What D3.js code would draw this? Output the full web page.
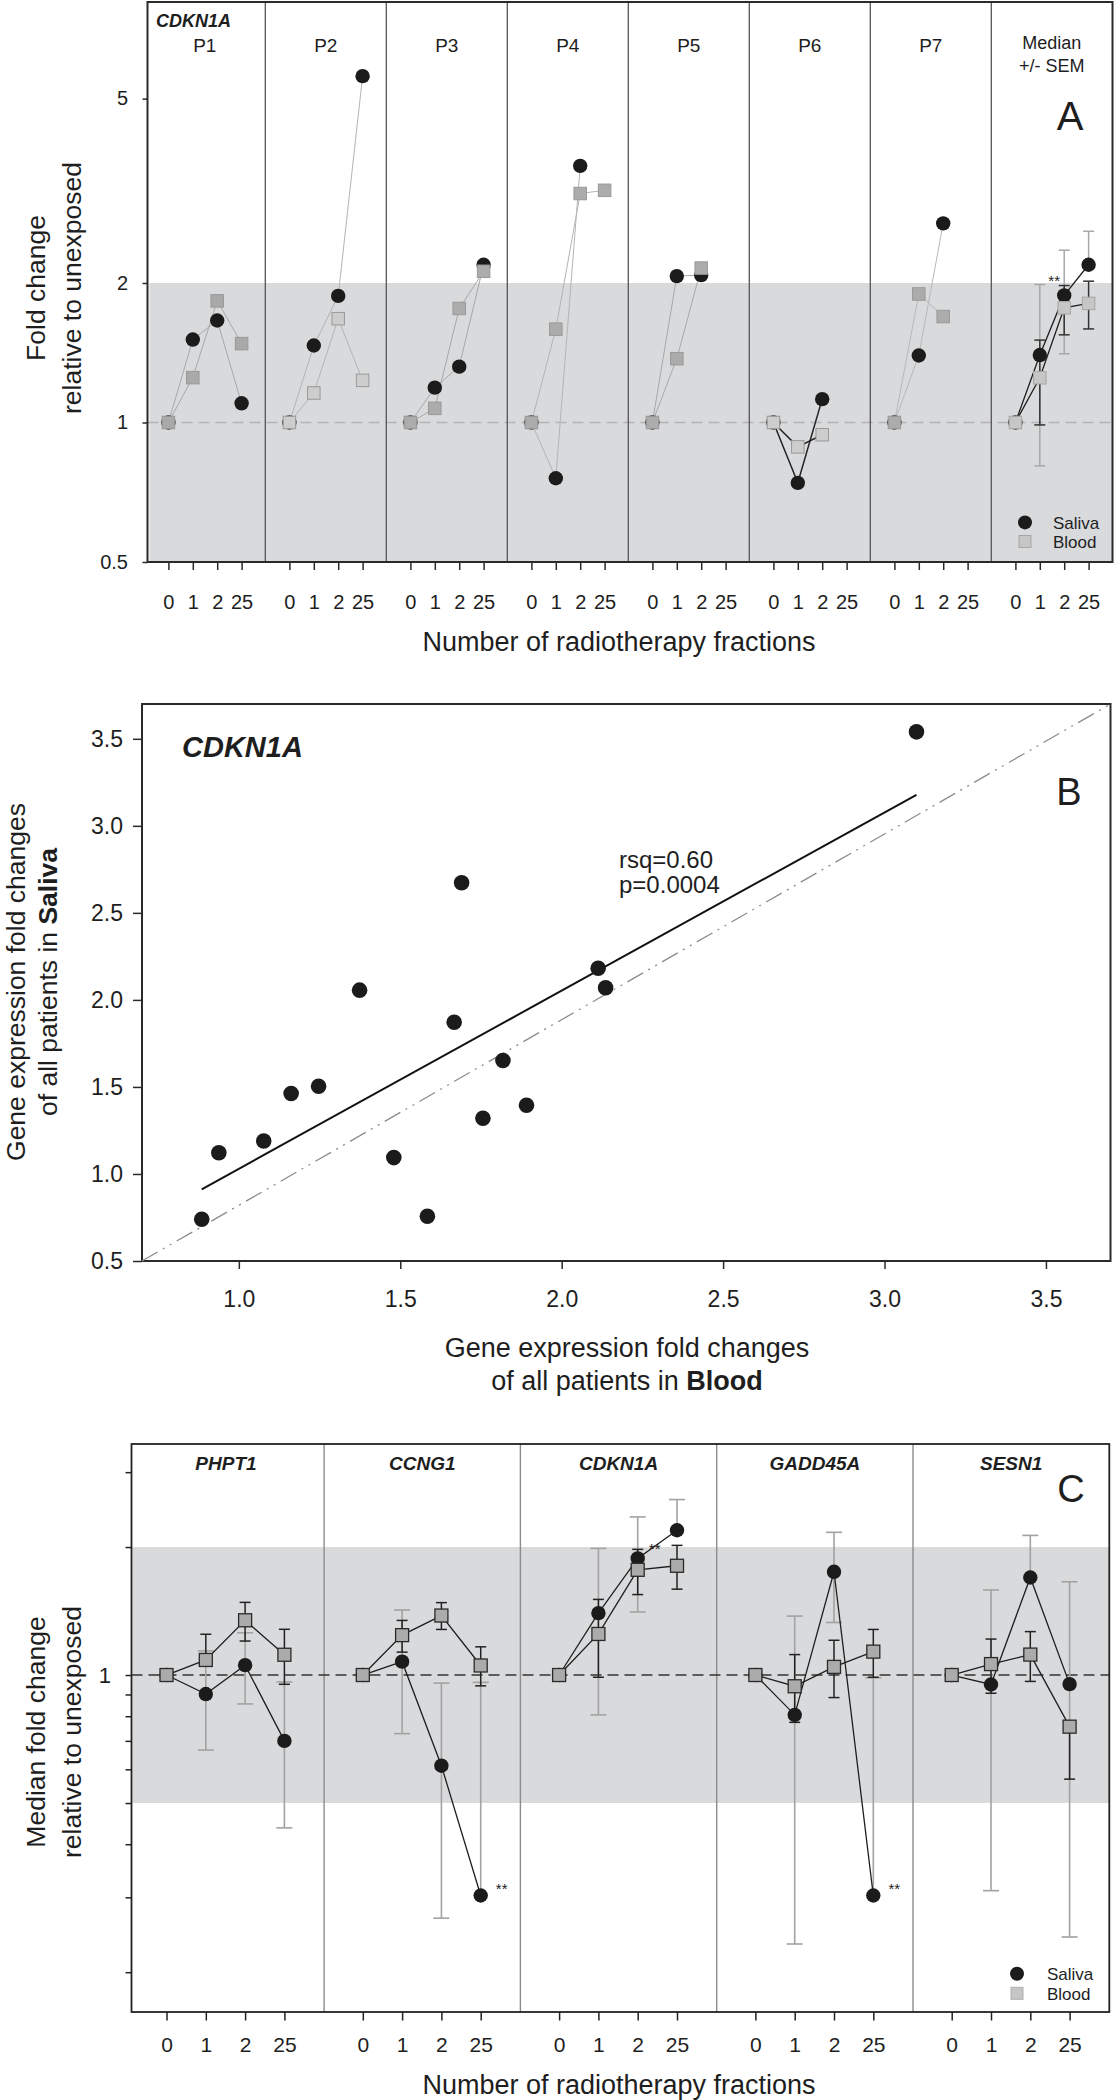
<!DOCTYPE html>
<html>
<head>
<meta charset="utf-8">
<script src="https://cdn.jsdelivr.net/npm/d3@7/dist/d3.min.js"></script>
<style>
html,body{margin:0;padding:0;background:#fff;}
svg text{font-family:"Liberation Sans",Arial,Helvetica,sans-serif;fill:#1e1e1e;}
</style>
</head>
<body>
<svg id="chart" width="1114" height="2100"></svg>
<script>
// ================= DATA =================
const fractions = ["0", "1", "2", "25"];

// Panel A: per-patient fold changes (CDKN1A)
const patients = ["P1", "P2", "P3", "P4", "P5", "P6", "P7"];
const salivaByPatient = [
  [1, 1.51, 1.66, 1.10],
  [1, 1.466, 1.876, 5.59],
  [1, 1.189, 1.32, 2.19],
  [1, 0.758, 3.58, null],
  [1, 2.07, 2.08, null],
  [1, 0.741, 1.123, null],
  [1, 1.395, 2.69, null]
];
const bloodByPatient = [
  [1, 1.25, 1.83, 1.48],
  [1, 1.158, 1.675, 1.233],
  [1, 1.073, 1.762, 2.12],
  [1, 1.59, 3.12, 3.17],
  [1, 1.373, 2.154, null],
  [1, 0.886, 0.941, null],
  [1, 1.894, 1.693, null]
];

// Panel C (and median cell of A): medians +/- SEM per gene
const genes = ["PHPT1", "CCNG1", "CDKN1A", "GADD45A", "SESN1"];
const salivaMedian = [
  [1, 0.902, 1.055, 0.70],
  [1, 1.075, 0.612, 0.303],
  [1, 1.398, 1.88, 2.19],
  [1, 0.806, 1.749, 0.303],
  [1, 0.95, 1.696, 0.952]
];
const bloodMedian = [
  [1, 1.085, 1.345, 1.116],
  [1, 1.241, 1.38, 1.053],
  [1, 1.249, 1.768, 1.807],
  [1, 0.941, 1.045, 1.135],
  [1, 1.061, 1.117, 0.756]
];
// [low, high] per fraction (null = not visible)
const salivaSEM = [
  [null, [0.666, 1.139], [0.855, 1.257], [0.437, 0.963]],
  [null, [0.728, 1.422], [0.268, 0.957], [null, 0.961]],
  [null, [0.806, 1.985], [1.407, 2.354], [null, 2.586]],
  [null, [0.233, 1.376], [1.329, 2.166], [null, 0.985]],
  [null, [0.311, 1.585], [null, 2.13], [0.242, 1.657]]
];
const bloodSEM = [
  [null, [null, 1.247], [1.202, 1.482], [0.951, 1.281]],
  [null, [1.132, 1.344], [1.28, 1.48], [0.943, 1.165]],
  [null, [0.988, 1.506], [1.546, 1.975], [1.592, 2.018]],
  [null, [0.774, 1.117], [0.885, 1.207], [0.988, 1.28]],
  [null, [0.906, 1.215], [0.966, 1.265], [0.569, null]]
];
// significance marks: gene index, fraction index
const sigC = [
  {gene: 1, frac: 3, series: "saliva"},
  {gene: 2, frac: 2, series: "saliva"},
  {gene: 3, frac: 3, series: "saliva"}
];

// Panel B: scatter blood vs saliva fold changes
const bloodFold  = [0.885, 0.938, 1.077, 1.162, 1.247, 1.374, 1.480, 1.584, 1.667, 1.690, 1.756, 1.818, 1.891, 2.113, 2.136, 3.099];
const salivaFold = [0.74, 1.122, 1.189, 1.462, 1.504, 2.056, 1.094, 0.757, 1.872, 2.673, 1.32, 1.652, 1.395, 2.182, 2.07, 3.54];
const statLines = ["rsq=0.60", "p=0.0004"];

// Tick values
const yTicksA = [0.5, 1, 2, 5];
const xTicksB = [1.0, 1.5, 2.0, 2.5, 3.0, 3.5];
const yTicksB = [0.5, 1.0, 1.5, 2.0, 2.5, 3.0, 3.5];
const yTicksC = [0.2, 0.3, 0.4, 0.5, 0.6, 0.7, 0.8, 0.9, 1, 2, 3];

// ================= STYLE =================
const INK = "#1e1e1e";
const BAND = "#d9dadc";
const patientLine = ["#a8a8a8", "#b4b4b4", "#a8a8a8", "#b4b4b4", "#a8a8a8", "#222222", "#b8b8b8"];
const patientLineW = [1, 1, 1, 1, 1, 1.5, 1];
const patientSquare = ["#a9a9a9", "#cdcdcd", "#acacac", "#acacac", "#acacac", "#cdcdcd", "#acacac"];

const svg = d3.select("#chart");

function styleAxis(g, size, color) {
  g.attr("font-family", null).attr("font-size", size);
  g.select(".domain").remove();
  g.selectAll(".tick line").attr("stroke", color).attr("stroke-width", 1.5);
}
function txt(g, x, y, s, size, o = {}) {
  const t = g.append("text").attr("x", x).attr("y", y).attr("font-size", size)
    .attr("text-anchor", o.anchor || "start");
  if (o.weight) t.attr("font-weight", o.weight);
  if (o.italic) t.attr("font-style", "italic");
  t.text(s);
  return t;
}
function rotTitle(g, x, y, parts, size) {
  const t = g.append("text").attr("transform", `translate(${x},${y}) rotate(-90)`)
    .attr("text-anchor", "middle").attr("font-size", size);
  parts.forEach(([s, b]) => t.append("tspan").attr("font-weight", b ? "bold" : null).text(s));
}
function drawCircles(g, pts, r) {
  g.selectAll(null).data(pts).join("circle")
    .attr("cx", d => d[0]).attr("cy", d => d[1]).attr("r", r).attr("fill", "#1b1b1b");
}
function drawSquares(g, pts, s, fill, stroke, sw) {
  g.selectAll(null).data(pts).join("rect")
    .attr("x", d => d[0] - s / 2).attr("y", d => d[1] - s / 2)
    .attr("width", s).attr("height", s)
    .attr("fill", fill).attr("stroke", stroke).attr("stroke-width", sw);
}
function pts(vals, xs, ys) {
  return vals.map((v, k) => v == null ? null : [xs(k), ys(v)]).filter(Boolean);
}
function seriesLine(g, vals, xs, ys, color, w) {
  const gen = d3.line().defined(d => d != null).x((d, k) => xs(k)).y(d => ys(d));
  g.append("path").attr("d", gen(vals)).attr("fill", "none").attr("stroke", color).attr("stroke-width", w);
}
function errBars(g, xs, ys, vals, sems, color, half, sw) {
  sems.forEach((s, k) => {
    if (!s) return;
    const x = xs(k);
    const lo = s[0] == null ? vals[k] : s[0];
    const hi = s[1] == null ? vals[k] : s[1];
    g.append("line").attr("x1", x).attr("x2", x).attr("y1", ys(lo)).attr("y2", ys(hi))
      .attr("stroke", color).attr("stroke-width", sw);
    [s[0], s[1]].forEach(e => {
      if (e == null) return;
      g.append("line").attr("x1", x - half).attr("x2", x + half).attr("y1", ys(e)).attr("y2", ys(e))
        .attr("stroke", color).attr("stroke-width", sw);
    });
  });
}

// ================= PANEL A =================
const A = {l: 147.5, t: 2, r: 1112.5, b: 562, cell0: 144.3, cellW: 121};
const yA = d3.scaleLog().domain([0.5, 8.08]).range([A.b, A.t]);
const gA = svg.append("g");
gA.append("rect").attr("x", A.l + 2).attr("y", yA(2)).attr("width", A.r - A.l - 2)
  .attr("height", yA(0.5) - yA(2)).attr("fill", BAND);
gA.append("line").attr("x1", A.l).attr("x2", A.r).attr("y1", yA(1)).attr("y2", yA(1))
  .attr("stroke", "#b5b5b5").attr("stroke-width", 1.3).attr("stroke-dasharray", "11,6");
for (let i = 1; i < 8; i++) {
  const x = A.cell0 + i * A.cellW;
  gA.append("line").attr("x1", x).attr("x2", x).attr("y1", A.t).attr("y2", A.b)
    .attr("stroke", "#555").attr("stroke-width", 1.3);
}
gA.append("rect").attr("x", A.l).attr("y", A.t).attr("width", A.r - A.l).attr("height", A.b - A.t)
  .attr("fill", "none").attr("stroke", "#2a2a2a").attr("stroke-width", 2);
gA.append("g").attr("transform", `translate(${A.l},0)`)
  .call(d3.axisLeft(yA).tickValues(yTicksA).tickFormat(d3.format("")).tickSize(5).tickPadding(14.5))
  .call(g => styleAxis(g, 20, "#2a2a2a"));

const cellScaleA = i => d3.scaleLinear().domain([-0.988, 3.971])
  .range([A.cell0 + i * A.cellW, A.cell0 + (i + 1) * A.cellW]);

for (let i = 0; i < 8; i++) {
  const xs = cellScaleA(i);
  gA.append("g").attr("transform", `translate(0,${A.b})`)
    .call(d3.axisBottom(xs).tickValues([0, 1, 2, 3]).tickFormat(k => fractions[k]).tickSize(8).tickPadding(24.8))
    .call(g => styleAxis(g, 20, "#2a2a2a"));
}

patients.forEach((p, i) => {
  const xs = cellScaleA(i);
  const g = gA.append("g");
  seriesLine(g, salivaByPatient[i], xs, yA, patientLine[i], patientLineW[i]);
  seriesLine(g, bloodByPatient[i], xs, yA, patientLine[i], patientLineW[i]);
  drawCircles(g, pts(salivaByPatient[i], xs, yA), 7.2);
  drawSquares(g, pts(bloodByPatient[i], xs, yA), 12.5, patientSquare[i], "#999", 1);
  txt(gA, A.cell0 + (i + 0.5) * A.cellW, 52, p, 19, {anchor: "middle"});
});

// Median cell (CDKN1A medians)
{
  const gi = genes.indexOf("CDKN1A");
  const xs = cellScaleA(7);
  const g = gA.append("g");
  errBars(g, xs, yA, salivaMedian[gi], salivaSEM[gi], "#a8a8a8", 5.5, 1.5);
  errBars(g, xs, yA, bloodMedian[gi], bloodSEM[gi], "#333", 5.5, 1.5);
  seriesLine(g, salivaMedian[gi], xs, yA, "#1e1e1e", 1.3);
  seriesLine(g, bloodMedian[gi], xs, yA, "#1e1e1e", 1.3);
  drawCircles(g, pts(salivaMedian[gi], xs, yA), 7.2);
  drawSquares(g, pts(bloodMedian[gi], xs, yA), 12.5, "#c6c6c6", "#a6a6a6", 1);
  txt(gA, xs(2) - 10, yA(salivaMedian[gi][2]) - 9, "**", 15, {anchor: "middle"});
  const cx = A.cell0 + 7.5 * A.cellW;
  txt(gA, cx, 49, "Median", 18, {anchor: "middle"});
  txt(gA, cx, 72, "+/- SEM", 18, {anchor: "middle"});
}
txt(gA, 156, 27, "CDKN1A", 18, {weight: "bold", italic: true});
txt(gA, 1070, 130, "A", 40, {anchor: "middle"});
// legend A
gA.append("circle").attr("cx", 1025).attr("cy", 522.4).attr("r", 7).attr("fill", "#1b1b1b");
gA.append("rect").attr("x", 1025 - 6).attr("y", 541.5 - 6).attr("width", 12).attr("height", 12)
  .attr("fill", "#c6c6c6").attr("stroke", "#a6a6a6");
txt(gA, 1053, 529, "Saliva", 17);
txt(gA, 1053, 548, "Blood", 17);
txt(gA, 619, 651, "Number of radiotherapy fractions", 27, {anchor: "middle"});
rotTitle(gA, 45, 288, [["Fold change", false]], 26.5);
rotTitle(gA, 81, 288, [["relative to unexposed", false]], 26.5);

// ================= PANEL B =================
const B = {l: 142, t: 704, r: 1110.5, b: 1261};
const xB = d3.scaleLinear().domain([0.7, 3.7]).range([B.l, B.r]);
const yB = d3.scaleLinear().domain([0.5, 3.7]).range([B.b, B.t]);
const gB = svg.append("g");
gB.append("rect").attr("x", B.l).attr("y", B.t).attr("width", B.r - B.l).attr("height", B.b - B.t)
  .attr("fill", "none").attr("stroke", "#2a2a2a").attr("stroke-width", 2);
gB.append("g").attr("transform", `translate(${B.l},0)`)
  .call(d3.axisLeft(yB).tickValues(yTicksB).tickFormat(d3.format(".1f")).tickSize(9).tickPadding(10))
  .call(g => styleAxis(g, 23, "#2a2a2a"));
gB.append("g").attr("transform", `translate(0,${B.b})`)
  .call(d3.axisBottom(xB).tickValues(xTicksB).tickFormat(d3.format(".1f")).tickSize(8).tickPadding(21.7))
  .call(g => styleAxis(g, 23, "#2a2a2a"));
// diagonal reference line (corner to corner)
gB.append("line").attr("x1", xB(0.7)).attr("y1", yB(0.5)).attr("x2", xB(3.7)).attr("y2", yB(3.7))
  .attr("stroke", "#8c8c8c").attr("stroke-width", 1.3).attr("stroke-dasharray", "18,6,2,6,2,6");
// least-squares regression
{
  const mx = d3.mean(bloodFold), my = d3.mean(salivaFold);
  const sxy = d3.sum(bloodFold.map((x, i) => (x - mx) * (salivaFold[i] - my)));
  const sxx = d3.sum(bloodFold.map(x => (x - mx) * (x - mx)));
  const slope = sxy / sxx, icpt = my - slope * mx;
  const x0 = d3.min(bloodFold), x1 = d3.max(bloodFold);
  gB.append("line").attr("x1", xB(x0)).attr("y1", yB(icpt + slope * x0))
    .attr("x2", xB(x1)).attr("y2", yB(icpt + slope * x1))
    .attr("stroke", "#111").attr("stroke-width", 2);
}
drawCircles(gB, bloodFold.map((x, i) => [xB(x), yB(salivaFold[i])]), 7.8);
txt(gB, 182, 757, "CDKN1A", 29, {weight: "bold", italic: true});
txt(gB, 1069, 805, "B", 38, {anchor: "middle"});
statLines.forEach((s, i) => txt(gB, 619, 867.6 + i * 25.7, s, 24));
{
  const t1 = gB.append("text").attr("x", 627).attr("y", 1357).attr("font-size", 27).attr("text-anchor", "middle");
  t1.text("Gene expression fold changes");
  const t2 = gB.append("text").attr("x", 627).attr("y", 1390).attr("font-size", 27).attr("text-anchor", "middle");
  t2.append("tspan").text("of all patients in ");
  t2.append("tspan").attr("font-weight", "bold").text("Blood");
}
rotTitle(gB, 24.5, 982, [["Gene expression fold changes", false]], 26.5);
rotTitle(gB, 57, 982, [["of all patients in ", false], ["Saliva", true]], 26.5);

// ================= PANEL C =================
const C = {l: 131.5, t: 1444, r: 1109.3, b: 2012, cell0: 127.8, cellW: 196.3};
const yC = d3.scaleLog().domain([0.16, 3.5]).range([2013.4, 1443.7]);
const gC = svg.append("g");
gC.append("rect").attr("x", C.l + 1).attr("y", yC(2)).attr("width", C.r - C.l - 1)
  .attr("height", yC(0.5) - yC(2)).attr("fill", BAND);
for (let i = 1; i < 5; i++) {
  const x = C.cell0 + i * C.cellW;
  gC.append("line").attr("x1", x).attr("x2", x).attr("y1", C.t).attr("y2", C.b)
    .attr("stroke", "#8c8c8c").attr("stroke-width", 1.4);
}
gC.append("line").attr("x1", C.l).attr("x2", C.r).attr("y1", yC(1)).attr("y2", yC(1))
  .attr("stroke", "#333").attr("stroke-width", 1.3).attr("stroke-dasharray", "11,6");
gC.append("rect").attr("x", C.l).attr("y", C.t).attr("width", C.r - C.l).attr("height", C.b - C.t)
  .attr("fill", "none").attr("stroke", "#222").attr("stroke-width", 1.8);
gC.append("g").attr("transform", `translate(${C.l},0)`)
  .call(d3.axisLeft(yC).tickValues(yTicksC).tickFormat(d => d === 1 ? "1" : "").tickSize(6).tickPadding(14.5))
  .call(g => styleAxis(g, 22, "#222"));

const cellScaleC = i => d3.scaleLinear().domain([-0.985, 4.01])
  .range([C.cell0 + i * C.cellW, C.cell0 + (i + 1) * C.cellW]);

genes.forEach((gene, i) => {
  const xs = cellScaleC(i);
  gC.append("g").attr("transform", `translate(0,${C.b})`)
    .call(d3.axisBottom(xs).tickValues([0, 1, 2, 3]).tickFormat(k => fractions[k]).tickSize(8.5).tickPadding(16.6))
    .call(g => styleAxis(g, 21, "#222"));
  const g = gC.append("g");
  errBars(g, xs, yC, salivaMedian[i], salivaSEM[i], "#a2a2a2", 8, 1.6);
  errBars(g, xs, yC, bloodMedian[i], bloodSEM[i], "#222", 5.5, 1.5);
  seriesLine(g, salivaMedian[i], xs, yC, "#1e1e1e", 1.3);
  seriesLine(g, bloodMedian[i], xs, yC, "#1e1e1e", 1.3);
  drawCircles(g, pts(salivaMedian[i], xs, yC), 7.2);
  drawSquares(g, pts(bloodMedian[i], xs, yC), 13, "#ababab", "#2a2a2a", 1.3);
  txt(gC, C.cell0 + (i + 0.5) * C.cellW, 1470, gene, 19, {anchor: "middle", weight: "bold", italic: true});
});
sigC.forEach(s => {
  const xs = cellScaleC(s.gene);
  const v = salivaMedian[s.gene][s.frac];
  const dy = s.frac === 3 ? -1 : -4;
  const dx = s.frac === 3 ? 21 : 17;
  txt(gC, xs(s.frac) + dx, yC(v) + dy, "**", 15, {anchor: "middle"});
});
txt(gC, 1071, 1502, "C", 38, {anchor: "middle"});
gC.append("circle").attr("cx", 1017).attr("cy", 1973.8).attr("r", 7).attr("fill", "#1b1b1b");
gC.append("rect").attr("x", 1017 - 6).attr("y", 1993.3 - 6).attr("width", 12).attr("height", 12)
  .attr("fill", "#c6c6c6").attr("stroke", "#b0b0b0");
txt(gC, 1047, 1980, "Saliva", 17);
txt(gC, 1047, 2000, "Blood", 17);
txt(gC, 619, 2094, "Number of radiotherapy fractions", 27, {anchor: "middle"});
rotTitle(gC, 45, 1732, [["Median fold change", false]], 26.5);
rotTitle(gC, 81, 1732, [["relative to unexposed", false]], 26.5);
</script>
</body>
</html>
